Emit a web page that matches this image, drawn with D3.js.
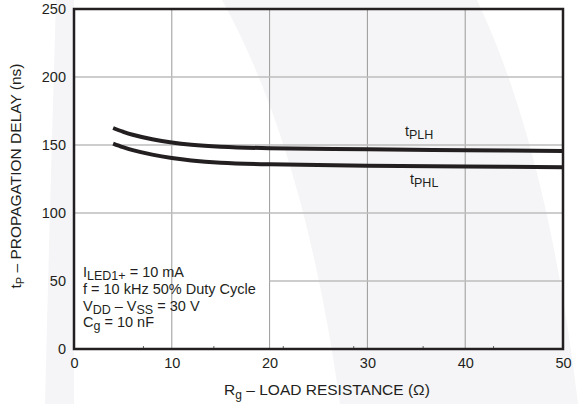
<!DOCTYPE html>
<html>
<head>
<meta charset="utf-8">
<script src="https://cdn.jsdelivr.net/npm/d3@7"></script>
<style>
  html, body { margin: 0; padding: 0; background: #fff; }
  svg { display: block; font-family: "Liberation Sans", Arial, Helvetica, sans-serif; }
</style>
</head>
<body>
<div id="chart"></div>
<script>
// data
const rg = [4, 5, 6, 8, 10, 12, 15, 20, 30, 40, 50];
const tPLH = [162.5, 159.8, 157.5, 154.2, 151.8, 150.2, 148.8, 147.6, 146.8, 146.2, 145.6];
const tPHL = [151, 148.4, 146.2, 142.9, 140.4, 138.6, 137, 135.8, 134.8, 134.2, 133.6];
const xTicks = [0, 10, 20, 30, 40, 50];
const yTicks = [0, 50, 100, 150, 200, 250];
const xMinorTicks = [7.1, 14.3, 21.4, 28.6, 35.7, 42.9];
const xGrid = [10, 20, 30, 40];
const yGrid = [50, 100, 150, 200];
const yGridStart = [20, 0, 0, 0];

const width = 583;
const height = 404;
const ink = '#231f20';

const svg = d3.select('#chart')
  .append('svg')
  .attr('width', width)
  .attr('height', height);

// faint watermark background
svg.append('rect').attr('width', width).attr('height', height).attr('fill', '#f5f5f7');
svg.append('path')
  .attr('d', 'M0,0 L56,0 Q50,200 45,404 L0,404 Z')
  .attr('fill', '#fff');
svg.append('path')
  .attr('d', 'M74,0 L222,0 Q305,150 340,404 L74,404 Z')
  .attr('fill', '#fff');
svg.append('path')
  .attr('d', 'M477,0 Q548,150 578,404 L583,404 L583,0 Z')
  .attr('fill', '#fff');

const x = d3.scaleLinear().domain([0, 50]).range([74, 563]);
const y = d3.scaleLinear().domain([0, 250]).range([349, 9]);

// grid
svg.append('g')
  .selectAll('line')
  .data(xGrid)
  .join('line')
  .attr('x1', d => x(d)).attr('x2', d => x(d))
  .attr('y1', y(250)).attr('y2', y(0))
  .attr('stroke', '#9a9a9a')
  .attr('stroke-width', 1);

svg.append('g')
  .selectAll('line')
  .data(yGrid)
  .join('line')
  .attr('x1', (d, i) => x(yGridStart[i])).attr('x2', x(50))
  .attr('y1', d => y(d)).attr('y2', d => y(d))
  .attr('stroke', '#bdbdbd')
  .attr('stroke-width', 1.5);

// minor ticks on the bottom edge
svg.append('g')
  .selectAll('line')
  .data(xMinorTicks)
  .join('line')
  .attr('x1', d => x(d)).attr('x2', d => x(d))
  .attr('y1', y(0)).attr('y2', y(0) - 3)
  .attr('stroke', '#666')
  .attr('stroke-width', 1);

// curves
const line = d3.line()
  .x(d => x(d[0]))
  .y(d => y(d[1]))
  .curve(d3.curveCatmullRom.alpha(0.5));

[tPLH, tPHL].forEach(series => {
  svg.append('path')
    .datum(rg.map((r, i) => [r, series[i]]))
    .attr('d', line)
    .attr('fill', 'none')
    .attr('stroke', ink)
    .attr('stroke-width', 4);
});

// frame
svg.append('rect')
  .attr('x', x(0)).attr('y', y(250))
  .attr('width', x(50) - x(0)).attr('height', y(0) - y(250))
  .attr('fill', 'none')
  .attr('stroke', ink)
  .attr('stroke-width', 2.5);

// axes
const xAxis = svg.append('g')
  .attr('transform', `translate(0, ${y(0)})`)
  .call(d3.axisBottom(x).tickValues(xTicks).tickSize(0).tickPadding(9));
xAxis.select('.domain').remove();
xAxis.selectAll('text')
  .attr('font-size', 14.5)
  .attr('font-family', '"Liberation Sans", Arial, sans-serif')
  .attr('fill', ink);

const yAxis = svg.append('g')
  .attr('transform', `translate(${x(0)}, 0)`)
  .call(d3.axisLeft(y).tickValues(yTicks).tickSize(0).tickPadding(8));
yAxis.select('.domain').remove();
yAxis.selectAll('text')
  .attr('font-size', 14.5)
  .attr('font-family', '"Liberation Sans", Arial, sans-serif')
  .attr('fill', ink);

// axis titles
const xTitle = svg.append('text')
  .attr('x', 327)
  .attr('y', 395)
  .attr('text-anchor', 'middle')
  .attr('font-size', 15.5)
  .attr('fill', ink);
xTitle.append('tspan').text('R');
xTitle.append('tspan').attr('dy', 4).attr('font-size', 12).text('g');
xTitle.append('tspan').attr('dy', -4).text('  – LOAD RESISTANCE (Ω)');

const yTitle = svg.append('text')
  .attr('transform', 'translate(21, 176) rotate(-90)')
  .attr('text-anchor', 'middle')
  .attr('font-size', 15.5)
  .attr('fill', ink);
yTitle.append('tspan').text('t');
yTitle.append('tspan').attr('dy', 3).attr('font-size', 11).text('P');
yTitle.append('tspan').attr('dy', -3).text(' – PROPAGATION DELAY (ns)');

// curve labels
function subLabel(px, py, main, sub) {
  const t = svg.append('text')
    .attr('x', px).attr('y', py)
    .attr('font-size', 14.5)
    .attr('fill', ink);
  t.append('tspan').text(main);
  t.append('tspan').attr('dy', 3).attr('font-size', 12.5).text(sub);
}
subLabel(405, 136, 't', 'PLH');
subLabel(410, 184, 't', 'PHL');

// conditions
const notes = [
  [['I', 0], ['LED1+', 1], [' = 10 mA', 0]],
  [['f = 10 kHz 50% Duty Cycle', 0]],
  [['V', 0], ['DD', 1], [' – V', 0], ['SS', 1], [' = 30 V', 0]],
  [['C', 0], ['g', 1], [' = 10 nF', 0]]
];
notes.forEach((parts, i) => {
  const t = svg.append('text')
    .attr('x', 83)
    .attr('y', 277 + i * 16.8)
    .attr('font-size', 14.5)
    .attr('fill', ink);
  let shifted = 0;
  parts.forEach(([s, isSub]) => {
    const dy = isSub ? 3 - shifted : -shifted;
    shifted = isSub ? 3 : 0;
    t.append('tspan')
      .attr('dy', dy)
      .attr('font-size', isSub ? 12.5 : 14.5)
      .text(s);
  });
});
</script>
</body>
</html>
